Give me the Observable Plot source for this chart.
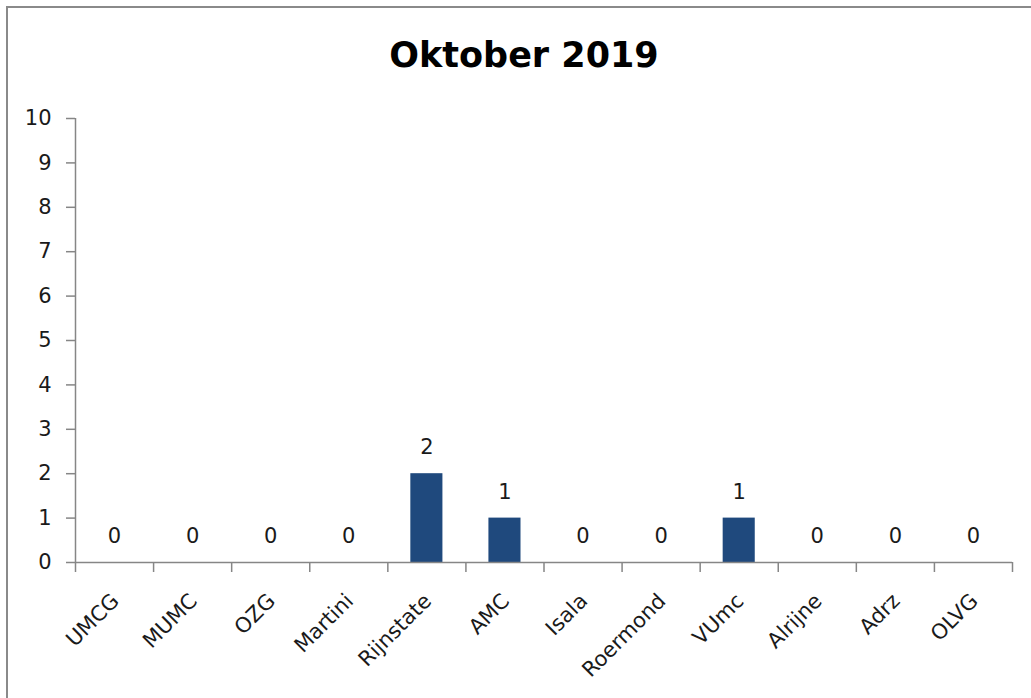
<!DOCTYPE html>
<html>
<head>
<meta charset="utf-8">
<script src="https://cdn.jsdelivr.net/npm/d3@7"></script>
<script src="https://cdn.jsdelivr.net/npm/@observablehq/plot@0.6"></script>
<style>
  html, body { margin: 0; padding: 0; background: #fff; overflow: hidden; width: 1031px; height: 698px; }
  #wrap { position: relative; width: 1031px; height: 698px; }
  #frame { position: absolute; left: 6px; top: 6px; width: 1200px; height: 900px; border: 2px solid #8a8a8a; box-sizing: border-box; }
  #title { position: relative; height: 80px; box-sizing: border-box; padding-top: 38px; padding-left: 17px; text-align: center;
           font-family: "DejaVu Sans", sans-serif; font-weight: bold; font-size: 35px; line-height: 35px; color: #000; }
  #chart { position: relative; }
</style>
</head>
<body>
<div id="wrap">
  <div id="frame"></div>
  <div id="title">Oktober 2019</div>
  <div id="chart"></div>
</div>
<script>
const categories = ["UMCG", "MUMC", "OZG", "Martini", "Rijnstate", "AMC", "Isala", "Roermond", "VUmc", "Alrijne", "Adrz", "OLVG"];
const values = [0, 0, 0, 0, 2, 1, 0, 0, 1, 0, 0, 0];
const yTicks = [0, 1, 2, 3, 4, 5, 6, 7, 8, 9, 10];

const data = categories.map((name, i) => ({name, i, value: values[i]}));
const axisColor = "#868686";
const textColor = "#1a1a1a";

const plot = Plot.plot({
  width: 1031,
  height: 618,
  marginLeft: 75,
  marginRight: 19,
  marginTop: 38,
  marginBottom: 136,
  style: {fontFamily: "DejaVu Sans, sans-serif", fontSize: "21px", color: textColor, background: "transparent", overflow: "visible"},
  x: {domain: [0, categories.length], axis: null},
  y: {domain: [0, 10], axis: null},
  marks: [
    Plot.rectY(data, {x1: d => d.i, x2: d => d.i + 1, y: "value", insetLeft: 23, insetRight: 23, fill: "#1f497d"}),
    Plot.axisY({ticks: yTicks, tickSize: 9, tickPadding: 15, stroke: axisColor, strokeWidth: 1.5, fill: textColor, fontSize: 21, label: null}),
    Plot.axisX({ticks: d3.range(0, categories.length + 1), tickSize: 10, tickFormat: () => "", stroke: axisColor, strokeWidth: 1.5, label: null}),
    Plot.ruleX([0], {stroke: axisColor, strokeWidth: 1.5}),
    Plot.ruleY([0], {stroke: axisColor, strokeWidth: 1.5}),
    Plot.text(data, {x: d => d.i + 0.5, y: "value", text: d => String(d.value), dy: -26, fontSize: 21, fill: textColor}),
    Plot.text(data, {x: d => d.i + 0.5, y: 0, text: "name", rotate: -45, textAnchor: "end", dx: 1, dy: 35, fontSize: 21, fill: textColor})
  ]
});
document.getElementById("chart").appendChild(plot);
</script>
</body>
</html>
